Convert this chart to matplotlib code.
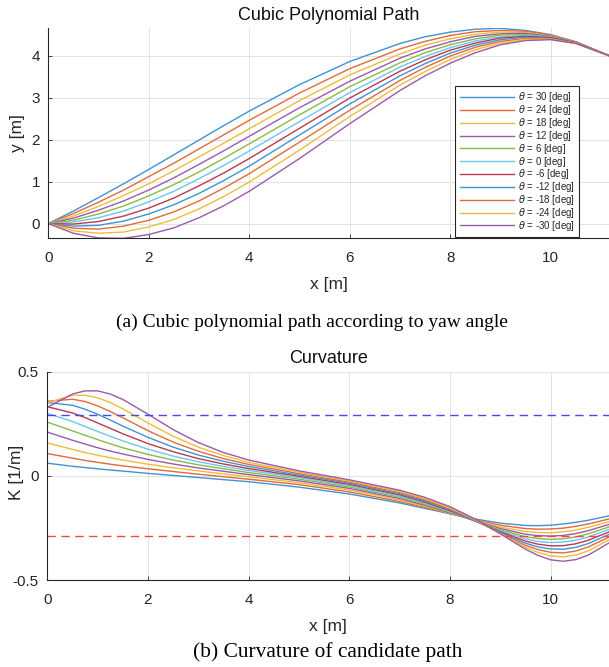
import matplotlib
matplotlib.use('Agg')
import matplotlib.pyplot as plt

# MATLAB-like look
plt.rcParams['font.family'] = 'sans-serif'
plt.rcParams['font.sans-serif'] = ['Liberation Sans', 'DejaVu Sans']
plt.rcParams['axes.unicode_minus'] = False
plt.rcParams['xtick.direction'] = 'in'
plt.rcParams['ytick.direction'] = 'in'
plt.rcParams['mathtext.fontset'] = 'dejavusans'

# yaw angles of the candidate paths [deg]
theta_deg = [30, 24, 18, 12, 6, 0, -6, -12, -18, -24, -30]

# (a) path y(x)
x_path = [0, 0.5, 1, 1.5, 2, 2.5, 3, 3.5, 4, 5, 6, 7, 7.5, 8, 8.5, 9, 9.5, 10, 10.5, 11.16]
y_p30 = [0, 0.30, 0.62, 0.95, 1.29, 1.64, 1.99, 2.34, 2.68, 3.31, 3.86, 4.29, 4.45, 4.56, 4.63, 4.65, 4.60, 4.50, 4.33, 4.00]
y_p24 = [0, 0.24, 0.51, 0.80, 1.12, 1.44, 1.78, 2.12, 2.46, 3.11, 3.69, 4.16, 4.34, 4.48, 4.57, 4.60, 4.58, 4.49, 4.33, 4.00]
y_p18 = [0, 0.18, 0.41, 0.67, 0.95, 1.26, 1.59, 1.92, 2.26, 2.93, 3.54, 4.04, 4.25, 4.40, 4.51, 4.56, 4.55, 4.47, 4.32, 4.00]
y_p12 = [0, 0.13, 0.32, 0.54, 0.80, 1.09, 1.41, 1.74, 2.08, 2.76, 3.39, 3.94, 4.16, 4.33, 4.46, 4.52, 4.53, 4.46, 4.32, 4.00]
y_p6 = [0, 0.08, 0.23, 0.42, 0.66, 0.93, 1.23, 1.56, 1.90, 2.59, 3.26, 3.83, 4.07, 4.26, 4.40, 4.49, 4.50, 4.45, 4.31, 4.00]
y_0 = [0, 0.04, 0.14, 0.30, 0.52, 0.77, 1.07, 1.39, 1.73, 2.43, 3.12, 3.73, 3.98, 4.19, 4.35, 4.45, 4.48, 4.44, 4.31, 4.00]
y_m6 = [0, -0.01, 0.05, 0.18, 0.37, 0.61, 0.90, 1.21, 1.55, 2.27, 2.99, 3.63, 3.90, 4.13, 4.30, 4.42, 4.46, 4.43, 4.31, 4.00]
y_m12 = [0, -0.06, -0.04, 0.06, 0.23, 0.45, 0.72, 1.03, 1.37, 2.11, 2.85, 3.52, 3.81, 4.06, 4.25, 4.38, 4.44, 4.41, 4.30, 4.00]
y_m18 = [0, -0.11, -0.13, -0.06, 0.08, 0.28, 0.54, 0.85, 1.19, 1.94, 2.70, 3.41, 3.72, 3.99, 4.20, 4.34, 4.41, 4.40, 4.30, 4.00]
y_m24 = [0, -0.17, -0.23, -0.20, -0.08, 0.10, 0.35, 0.65, 0.99, 1.75, 2.55, 3.30, 3.62, 3.91, 4.14, 4.30, 4.39, 4.39, 4.29, 4.00]
y_m30 = [0, -0.23, -0.34, -0.35, -0.26, -0.10, 0.14, 0.43, 0.77, 1.55, 2.38, 3.17, 3.52, 3.82, 4.07, 4.26, 4.36, 4.38, 4.29, 4.00]

# (b) curvature K(x)
x_curv = [0, 0.5, 0.75, 1, 1.25, 1.5, 2, 2.5, 3, 3.5, 4, 5, 6, 7, 7.5, 8, 8.5, 9,
          9.5, 9.75, 10, 10.25, 10.5, 10.75, 11.16]
k_p30 = [0.061, 0.046, 0.040, 0.034, 0.028, 0.023, 0.012, 0.002, -0.008, -0.018, -0.028, -0.054, -0.087,
         -0.130, -0.156, -0.182, -0.207, -0.227, -0.238, -0.239, -0.237, -0.231, -0.223, -0.213, -0.192]
k_p24 = [0.107, 0.085, 0.074, 0.065, 0.056, 0.048, 0.034, 0.021, 0.008, -0.004, -0.016, -0.042, -0.077,
         -0.123, -0.151, -0.181, -0.211, -0.237, -0.253, -0.256, -0.255, -0.251, -0.242, -0.231, -0.207]
k_p18 = [0.158, 0.127, 0.112, 0.099, 0.087, 0.076, 0.056, 0.039, 0.024, 0.009, -0.004, -0.033, -0.068,
         -0.116, -0.146, -0.179, -0.214, -0.246, -0.267, -0.272, -0.273, -0.269, -0.260, -0.247, -0.220]
k_p12 = [0.210, 0.171, 0.153, 0.135, 0.119, 0.105, 0.079, 0.057, 0.038, 0.022, 0.006, -0.024, -0.060,
         -0.109, -0.141, -0.177, -0.216, -0.253, -0.280, -0.287, -0.289, -0.286, -0.277, -0.263, -0.233]
k_p6 = [0.258, 0.216, 0.195, 0.174, 0.154, 0.135, 0.103, 0.076, 0.053, 0.034, 0.016, -0.016, -0.053,
        -0.103, -0.136, -0.174, -0.217, -0.259, -0.292, -0.301, -0.305, -0.302, -0.293, -0.278, -0.245]
k_0 = [0.300, 0.261, 0.237, 0.213, 0.190, 0.168, 0.128, 0.095, 0.068, 0.045, 0.026, -0.009, -0.047,
       -0.097, -0.131, -0.171, -0.217, -0.264, -0.302, -0.315, -0.320, -0.318, -0.309, -0.293, -0.257]
k_m6 = [0.332, 0.302, 0.280, 0.254, 0.228, 0.202, 0.155, 0.116, 0.083, 0.057, 0.035, -0.002, -0.041,
        -0.091, -0.126, -0.167, -0.216, -0.268, -0.313, -0.328, -0.336, -0.335, -0.326, -0.309, -0.269]
k_m12 = [0.352, 0.339, 0.320, 0.296, 0.268, 0.239, 0.185, 0.138, 0.100, 0.070, 0.045, 0.004, -0.035,
         -0.086, -0.120, -0.163, -0.215, -0.272, -0.323, -0.341, -0.351, -0.352, -0.343, -0.325, -0.281]
k_m18 = [0.358, 0.368, 0.357, 0.336, 0.309, 0.279, 0.217, 0.162, 0.118, 0.083, 0.055, 0.011, -0.030,
         -0.080, -0.115, -0.159, -0.213, -0.275, -0.333, -0.354, -0.367, -0.370, -0.361, -0.341, -0.294]
k_m24 = [0.351, 0.387, 0.387, 0.375, 0.352, 0.322, 0.254, 0.190, 0.138, 0.097, 0.065, 0.017, -0.024,
         -0.075, -0.109, -0.154, -0.210, -0.277, -0.342, -0.368, -0.384, -0.389, -0.380, -0.360, -0.307]
k_m30 = [0.329, 0.393, 0.408, 0.408, 0.393, 0.367, 0.296, 0.222, 0.160, 0.112, 0.076, 0.024, -0.019,
         -0.069, -0.103, -0.148, -0.207, -0.278, -0.352, -0.382, -0.403, -0.410, -0.402, -0.380, -0.322]

k_max = 0.29   # curvature limit (dashed lines)

path_y = [y_p30, y_p24, y_p18, y_p12, y_p6, y_0, y_m6, y_m12, y_m18, y_m24, y_m30]
curv_k = [k_p30, k_p24, k_p18, k_p12, k_p6, k_0, k_m6, k_m12, k_m18, k_m24, k_m30]

# MATLAB default colour order, a bit washed out like the scan
colors = ['#3f93d2', '#e06a3a', '#efbb3c', '#9a5aab', '#86bb47', '#6cc6ef', '#b83a4e']

DARK = '#262626'
GRID = '#e2e2e2'


def style_axes(ax):
    for s in ('top', 'right'):
        ax.spines[s].set_visible(False)
    for s in ('left', 'bottom'):
        ax.spines[s].set_color(DARK)
        ax.spines[s].set_linewidth(0.8)
    ax.tick_params(colors=DARK, labelsize=11, length=3, width=0.6)
    ax.tick_params(axis='x', pad=9)
    ax.tick_params(axis='y', pad=6)
    ax.grid(True, color=GRID, linewidth=0.7)
    ax.set_axisbelow(True)


fig = plt.figure(figsize=(6.09, 6.67), dpi=100)

# ---- (a) path ----
ax1 = fig.add_axes([0.0793, 0.6427, 0.9207, 0.3148])
for i, (th, y) in enumerate(zip(theta_deg, path_y)):
    ax1.plot(x_path, y, color=colors[i % 7], lw=1.0,
             label=r'$\theta$ = %d [deg]' % th)
ax1.set_xlim(0, 11.16)
ax1.set_ylim(-0.35, 4.65)
ax1.set_xticks([0, 2, 4, 6, 8, 10])
ax1.set_yticks([0, 1, 2, 3, 4])
style_axes(ax1)
ax1.set_title('Cubic Polynomial Path', fontsize=13, color='#111111', pad=6)
ax1.set_xlabel('x [m]', fontsize=12.5, color=DARK, labelpad=9)
ax1.set_ylabel('y [m]', fontsize=12.5, color=DARK)
ax1.yaxis.set_label_coords(-0.041, 0.5)
leg = ax1.legend(loc='upper right', bbox_to_anchor=(0.947, 0.725), borderaxespad=0,
                 fontsize=7, handlelength=5.6, labelspacing=-0.12, handletextpad=0.4,
                 borderpad=0.45, fancybox=False, framealpha=1, edgecolor=DARK)
leg.get_frame().set_linewidth(0.8)
for t in leg.get_texts():
    t.set_color(DARK)

# ---- (b) curvature ----
ax2 = fig.add_axes([0.0777, 0.1304, 0.9223, 0.3123])
for i, k in enumerate(curv_k):
    ax2.plot(x_curv, k, color=colors[i % 7], lw=1.0)
ax2.axhline(k_max, color='#4848f0', lw=1.0, ls=(0, (6, 4)))
ax2.axhline(-k_max, color='#f04848', lw=1.0, ls=(0, (6, 4)))
ax2.set_xlim(0, 11.16)
ax2.set_ylim(-0.5, 0.5)
ax2.set_xticks([0, 2, 4, 6, 8, 10])
ax2.set_yticks([-0.5, 0, 0.5])
ax2.set_yticklabels(['-0.5', '0', '0.5'])
style_axes(ax2)
ax2.set_title('Curvature', fontsize=13, color='#111111', pad=6)
ax2.set_xlabel('x [m]', fontsize=12.5, color=DARK, labelpad=9)
ax2.set_ylabel('K [1/m]', fontsize=12.5, color=DARK)
ax2.yaxis.set_label_coords(-0.041, 0.515)

# captions
fig.text(0.513, 1 - 322 / 667, '(a) Cubic polynomial path according to yaw angle',
         ha='center', va='center', fontsize=14, family='Liberation Serif', color='black')
fig.text(0.538, 1 - 652 / 667, '(b) Curvature of candidate path',
         ha='center', va='center', fontsize=15.4, family='Liberation Serif', color='black')

fig.savefig('out.png', dpi=100)
